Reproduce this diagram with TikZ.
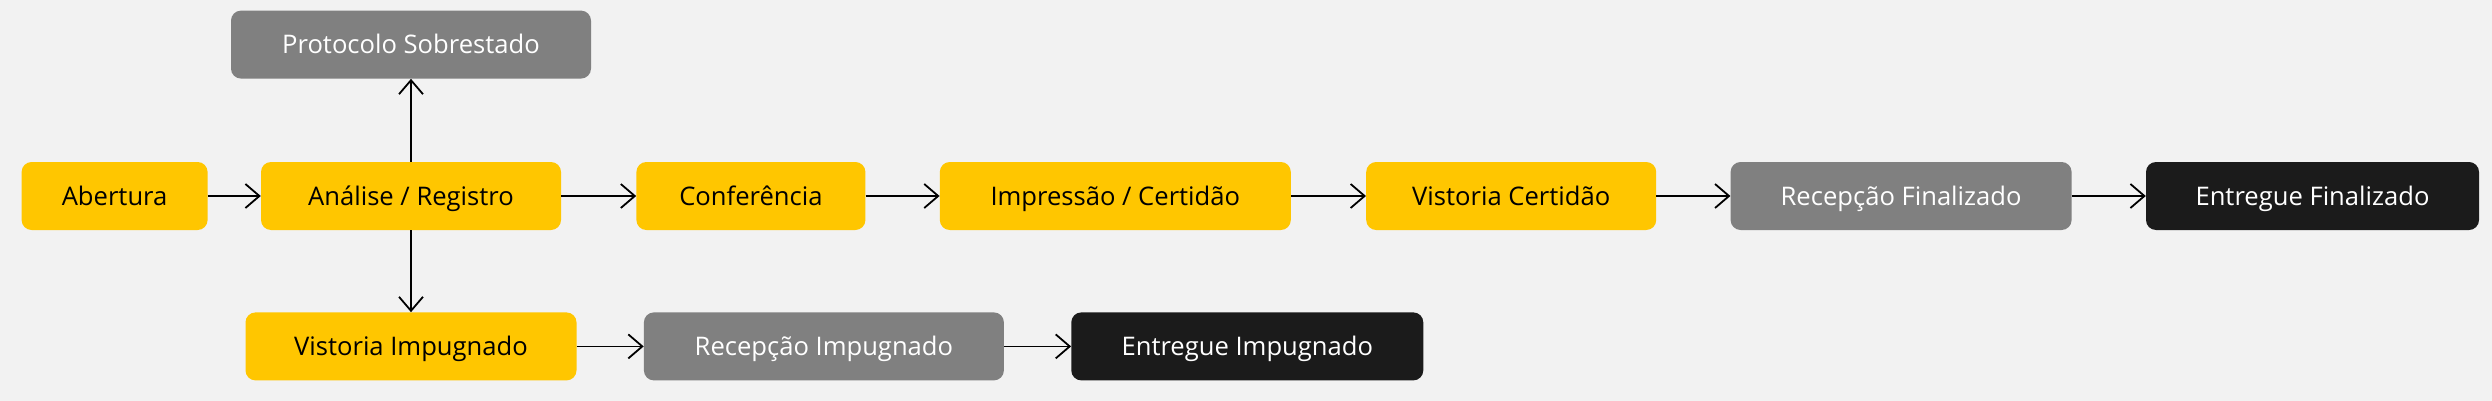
\documentclass[tikz,border=0pt]{standalone}
\usepackage{fontspec}
\setmainfont{Open Sans}
\usepackage{xcolor}
\usetikzlibrary{arrows.meta, positioning}

\definecolor{amarelo}{HTML}{FFC600}
\definecolor{cinza}{HTML}{808080}
\definecolor{escuro}{HTML}{1B1B1B}
\definecolor{fundo}{HTML}{F2F2F2}

\begin{document}
\begin{tikzpicture}[
    node distance=74pt,
    font=\fontsize{25.6}{30}\selectfont,
    etapa/.style={rectangle, rounded corners=10pt, minimum height=68pt, text height=22pt, text depth=4pt, text centered, fill=amarelo, text=black},
    pendente/.style={etapa, fill=cinza, text=white},
    final/.style={etapa, fill=escuro, text=white},
    arrow/.style={line width=1.8pt, -{Straight Barb[length=14pt, width=24pt]}}
]

% Background
\fill[fundo] (0,0) rectangle (2492pt,-401pt);
\useasboundingbox (0,0) rectangle (2492pt,-401pt);

% Nodes
\node (analise) [etapa, minimum width=300pt] at (411pt,-196pt) {Análise / Registro};
\node (abertura) [etapa, minimum width=186pt, left=53pt of analise] {Abertura};
\node (conferencia) [etapa, minimum width=229pt, right=75pt of analise] {Conferência};
\node (impressao) [etapa, minimum width=351pt, right=of conferencia] {Impressão / Certidão};
\node (vistoriacert) [etapa, minimum width=290pt, right=75pt of impressao] {Vistoria Certidão};
\node (recepcaofin) [pendente, minimum width=341pt, right=of vistoriacert] {Recepção Finalizado};
\node (entreguefin) [final, minimum width=333pt, right=of recepcaofin] {Entregue Finalizado};
\node (protocolo) [pendente, minimum width=360pt, above=83pt of analise] {Protocolo Sobrestado};
\node (vistoriaimp) [etapa, minimum width=331pt, below=82pt of analise] {Vistoria Impugnado};
\node (recepcaoimp) [pendente, minimum width=360pt, right=67pt of vistoriaimp] {Recepção Impugnado};
\node (entregueimp) [final, minimum width=352pt, right=67pt of recepcaoimp] {Entregue Impugnado};

% Arrows
\draw [arrow] (abertura) -- (analise);
\draw [arrow] (analise) -- (conferencia);
\draw [arrow] (conferencia) -- (impressao);
\draw [arrow] (impressao) -- (vistoriacert);
\draw [arrow] (vistoriacert) -- (recepcaofin);
\draw [arrow] (recepcaofin) -- (entreguefin);
\draw [arrow] (analise) -- (protocolo);
\draw [arrow] (analise) -- (vistoriaimp);
\draw [arrow] (vistoriaimp) -- (recepcaoimp);
\draw [arrow] (recepcaoimp) -- (entregueimp);

\end{tikzpicture}
\end{document}
